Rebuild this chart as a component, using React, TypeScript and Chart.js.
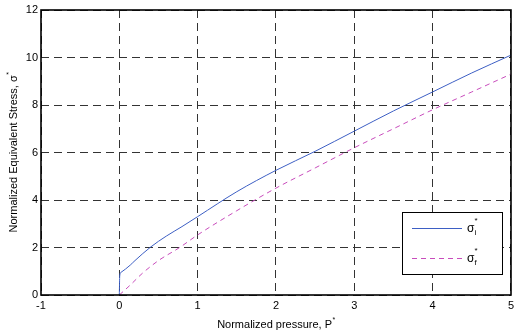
import React, { useEffect, useRef } from "react";
import { Chart, registerables } from "chart.js";

Chart.register(...registerables);

const pressureI = [0, 0.005, 0.02, 0.14, 0.2, 0.4, 0.6, 0.8, 1, 1.5, 2, 2.5, 3, 3.5, 4, 4.5, 5];
const sigmaI = [0, 0.8, 0.95, 1.26, 1.45, 2.02, 2.48, 2.88, 3.3, 4.35, 5.25, 6.05, 6.9, 7.75, 8.55, 9.35, 10.1];
const pressureF = [0, 0.14, 0.3, 0.5, 0.77, 1, 1.5, 2, 2.5, 3, 3.5, 4, 4.5, 5];
const sigmaF = [0, 0.42, 0.93, 1.45, 2.0, 2.53, 3.55, 4.5, 5.35, 6.2, 7.0, 7.8, 8.55, 9.3];
const xTicks = [-1, 0, 1, 2, 3, 4, 5];
const yTicks = [0, 2, 4, 6, 8, 10, 12];
const xTitle = "Normalized pressure, P";
const yTitle = "Normalized Equivalent Stress, σ";
const legendLabels = [
  { base: "σ", sub: "i" },
  { base: "σ", sub: "f" },
];

const FONT = "Liberation Sans, Arial, Helvetica, sans-serif";
const BLUE = "#3d5fc4";
const MAGENTA = "#c84cbc";

const framePlugin = {
  id: "matlabFrame",
  afterDraw(chart: any) {
    const { ctx, chartArea } = chart;
    const { left, right, top, bottom } = chartArea;
    ctx.save();
    // frame
    ctx.strokeStyle = "#000";
    ctx.lineWidth = 1.6;
    ctx.setLineDash([]);
    ctx.strokeRect(Math.round(left), Math.round(top), Math.round(right - left), Math.round(bottom - top));

    // x title
    ctx.fillStyle = "#000";
    ctx.textBaseline = "alphabetic";
    ctx.font = `11px ${FONT}`;
    const wx = ctx.measureText(xTitle).width;
    ctx.font = `7px ${FONT}`;
    const ws = ctx.measureText("*").width;
    const cx = (left + right) / 2;
    const x0 = cx - (wx + ws) / 2;
    ctx.font = `11px ${FONT}`;
    ctx.textAlign = "left";
    ctx.fillText(xTitle, x0, 328);
    ctx.font = `7px ${FONT}`;
    ctx.fillText("*", x0 + wx + 0.5, 322);

    // y title
    ctx.save();
    ctx.translate(17, (top + bottom) / 2);
    ctx.rotate(-Math.PI / 2);
    ctx.font = `11px ${FONT}`;
    const wy = ctx.measureText(yTitle).width;
    const y0 = -(wy + ws) / 2;
    ctx.fillText(yTitle, y0, 0);
    ctx.font = `7px ${FONT}`;
    ctx.fillText("*", y0 + wy + 0.5, -6);
    ctx.restore();

    // legend
    const lx = 402, ly = 212, lw = 100, lh = 62;
    ctx.fillStyle = "#fff";
    ctx.fillRect(lx, ly, lw, lh);
    ctx.strokeStyle = "#000";
    ctx.lineWidth = 1;
    ctx.strokeRect(lx + 0.5, ly + 0.5, lw, lh);
    const rows = [
      { y: 228, color: BLUE, dash: [] as number[] },
      { y: 258, color: MAGENTA, dash: [5, 4] },
    ];
    rows.forEach((r, i) => {
      ctx.strokeStyle = r.color;
      ctx.setLineDash(r.dash);
      ctx.beginPath();
      ctx.moveTo(412, r.y + 0.5);
      ctx.lineTo(462, r.y + 0.5);
      ctx.stroke();
      ctx.setLineDash([]);
      ctx.fillStyle = "#000";
      ctx.font = `12px ${FONT}`;
      ctx.textAlign = "left";
      ctx.fillText(legendLabels[i].base, 467, r.y + 4);
      const wb = ctx.measureText(legendLabels[i].base).width;
      ctx.font = `8px ${FONT}`;
      ctx.fillText("*", 467 + wb, r.y - 5);
      ctx.fillText(legendLabels[i].sub, 467 + wb, r.y + 7);
    });
    ctx.restore();
  },
};

export default function App() {
  const ref = useRef<HTMLCanvasElement | null>(null);
  useEffect(() => {
    if (!ref.current) return;
    const chart = new Chart(ref.current, {
      type: "line",
      data: {
        datasets: [
          {
            label: "σi*",
            data: pressureI.map((p, i) => ({ x: p, y: sigmaI[i] })),
            borderColor: BLUE,
            borderWidth: 1,
            pointRadius: 0,
            cubicInterpolationMode: "monotone",
            fill: false,
          },
          {
            label: "σf*",
            data: pressureF.map((p, i) => ({ x: p, y: sigmaF[i] })),
            borderColor: MAGENTA,
            borderWidth: 1,
            borderDash: [5, 4],
            pointRadius: 0,
            cubicInterpolationMode: "monotone",
            fill: false,
          },
        ],
      },
      options: {
        responsive: false,
        animation: false,
        layout: { padding: { left: 0, right: 5, top: 10, bottom: 0 } },
        plugins: { legend: { display: false }, tooltip: { enabled: false } },
        scales: {
          x: {
            type: "linear",
            min: -1,
            max: 5,
            afterBuildTicks: (s: any) => {
              s.ticks = xTicks.map((v) => ({ value: v }));
            },
            afterFit: (s: any) => {
              s.height = 38;
            },
            ticks: { color: "#000", font: { family: FONT, size: 11 }, padding: 4, maxRotation: 0 },
            grid: { color: "#333", lineWidth: 1, drawTicks: false },
            border: { display: false, dash: [8, 5] },
          },
          y: {
            type: "linear",
            min: 0,
            max: 12,
            afterBuildTicks: (s: any) => {
              s.ticks = yTicks.map((v) => ({ value: v }));
            },
            afterFit: (s: any) => {
              s.width = 41;
            },
            ticks: { color: "#000", font: { family: FONT, size: 11 }, padding: 3 },
            grid: { color: "#333", lineWidth: 1, drawTicks: false },
            border: { display: false, dash: [8, 5] },
          },
        },
      },
      plugins: [framePlugin],
    });
    return () => chart.destroy();
  }, []);
  return (
    <div style={{ position: "fixed", left: 0, top: 0, width: 518, height: 333, background: "#fff" }}>
      <canvas ref={ref} width={518} height={333} />
    </div>
  );
}
